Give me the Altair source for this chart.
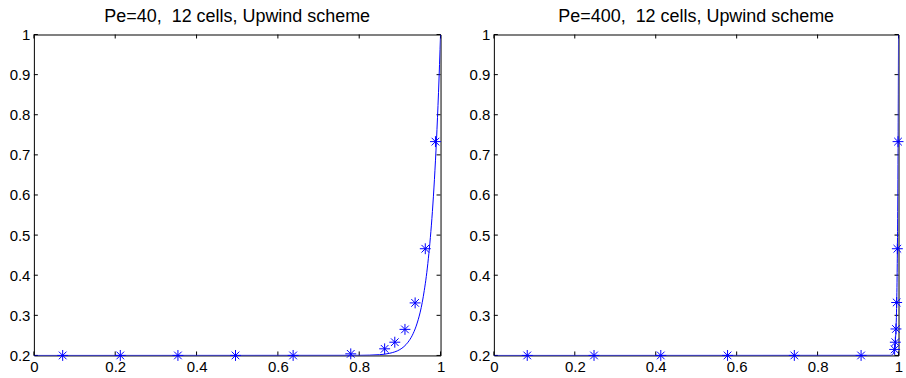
import altair as alt
import pandas as pd

# ---------------- data ----------------
titles = ["Pe=40,\u00a0 12 cells, Upwind scheme", "Pe=400,\u00a0 12 cells, Upwind scheme"]

# numerical solution (asterisks)
left_pts_x = [0.0708, 0.2125, 0.3542, 0.4958, 0.6375, 0.7792,
              0.8625, 0.8875, 0.9125, 0.9375, 0.9625, 0.9875]
left_pts_y = [0.2, 0.2, 0.2, 0.2, 0.2, 0.204,
              0.2165, 0.233, 0.265, 0.331, 0.466, 0.733]

right_pts_x = [0.0825, 0.2475, 0.4125, 0.5775, 0.7425, 0.9075,
               0.9904, 0.9921, 0.9937, 0.9954, 0.9971, 0.9988]
right_pts_y = [0.2, 0.2, 0.2, 0.2, 0.2, 0.2,
               0.215, 0.233, 0.266, 0.332, 0.466, 0.733]

# exact solution (solid line)
left_curve_x = [0, 0.8, 0.85, 0.875, 0.9, 0.91, 0.92, 0.93, 0.94, 0.945, 0.95,
                0.955, 0.96, 0.965, 0.97, 0.975, 0.98, 0.985, 0.99, 0.995, 1.0]
left_curve_y = [0.2, 0.2003, 0.202, 0.2054, 0.2147, 0.222, 0.233, 0.249, 0.273, 0.289, 0.308,
                0.332, 0.362, 0.397, 0.441, 0.494, 0.559, 0.639, 0.736, 0.855, 1.0]

right_curve_x = [0, 0.98, 0.985, 0.99, 0.9925, 0.995, 0.9965, 0.9975, 0.9985, 0.9993, 1.0]
right_curve_y = [0.2, 0.2003, 0.202, 0.2147, 0.240, 0.308, 0.397, 0.494, 0.639, 0.805, 1.0]

x_ticks = [0, 0.2, 0.4, 0.6, 0.8, 1]
y_ticks = [0.2, 0.3, 0.4, 0.5, 0.6, 0.7, 0.8, 0.9, 1]

# ---------------- styling ----------------
FONT = "Liberation Sans"
BLUE = "#0000ff"
H = 322
TICK = 4
STAR = "M0,-1L0,1M-1,0L1,0M-0.7,-0.7L0.7,0.7M-0.7,0.7L0.7,-0.7"

xscale = alt.Scale(domain=[0, 1], nice=False, zero=False)
yscale = alt.Scale(domain=[0.2, 1], nice=False, zero=False)
xaxis = alt.Axis(values=x_ticks, format="~g", title=None, ticks=False, tickSize=0,
                 domain=False, grid=False, labelFlush=False, labelPadding=4,
                 labelFont=FONT, labelFontSize=15, labelColor="black")
yaxis = alt.Axis(values=y_ticks, format="~g", title=None, ticks=False, tickSize=0,
                 domain=False, grid=False, labelFlush=False, labelPadding=4,
                 labelFont=FONT, labelFontSize=15, labelColor="black")


def X(f):
    return alt.X(f, type="quantitative", scale=xscale, axis=xaxis)


def Y(f):
    return alt.Y(f, type="quantitative", scale=yscale, axis=yaxis)


def panel(title, px, py, cx, cy, W):
    pts = pd.DataFrame({"x": px, "y": py})
    cur = pd.DataFrame({"x": cx, "y": cy})
    xt = pd.DataFrame({"t": x_ticks})
    yt = pd.DataFrame({"t": y_ticks})

    line = alt.Chart(cur).mark_line(color=BLUE, strokeWidth=1, interpolate="monotone",
                                    clip=True).encode(x=X("x"), y=Y("y"))
    stars = alt.Chart(pts).mark_point(shape=STAR, size=120, filled=False, color=BLUE,
                                      strokeWidth=1, opacity=1).encode(x=X("x"), y=Y("y"))
    bt = alt.Chart(xt).mark_rule(color="black", strokeWidth=1).encode(
        x=X("t"), y=alt.value(H), y2=alt.value(H - TICK))
    tt = alt.Chart(xt).mark_rule(color="black", strokeWidth=1).encode(
        x=X("t"), y=alt.value(0), y2=alt.value(TICK))
    lt = alt.Chart(yt).mark_rule(color="black", strokeWidth=1).encode(
        y=Y("t"), x=alt.value(0), x2=alt.value(TICK))
    rt = alt.Chart(yt).mark_rule(color="black", strokeWidth=1).encode(
        y=Y("t"), x=alt.value(W), x2=alt.value(W - TICK))

    return alt.layer(bt, tt, lt, rt, line, stars).properties(
        width=W, height=H,
        title=alt.TitleParams(title, font=FONT, fontSize=18, fontWeight="normal",
                              color="black", anchor="middle", offset=2),
    )


left = panel(titles[0], left_pts_x, left_pts_y, left_curve_x, left_curve_y, 408)
right = panel(titles[1], right_pts_x, right_pts_y, right_curve_x, right_curve_y, 406)

chart = alt.HConcatChart(hconcat=[left, right], spacing=53.5, bounds="flush").properties(
    padding={"left": 8, "top": 6, "right": 0, "bottom": 0},
    background="white",
).configure_view(stroke="black", strokeWidth=1)

chart.save("out.html", embed_options={"renderer": "svg", "actions": False})
